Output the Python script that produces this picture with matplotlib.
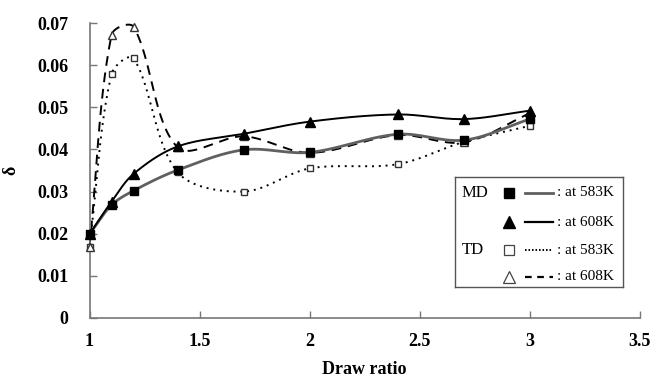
import numpy as np
import matplotlib
matplotlib.use("Agg")
from matplotlib import pyplot as plt

draw_ratio = [1.0, 1.1, 1.2, 1.4, 1.7, 2.0, 2.4, 2.7, 3.0]
md_583 = [0.0199, 0.0268, 0.0302, 0.0351, 0.0399, 0.0393, 0.0436, 0.0422, 0.0472]
md_608 = [0.0199, 0.0276, 0.0342, 0.0407, 0.0437, 0.0466, 0.0483, 0.0472, 0.0492]
td_583 = [0.0169, 0.0579, 0.0616, 0.0346, 0.0300, 0.0355, 0.0365, 0.0418, 0.0456]
td_608 = [0.0169, 0.0672, 0.0691, 0.0405, 0.0431, 0.0392, 0.0434, 0.0417, 0.0486]

x_ticks = [1, 1.5, 2, 2.5, 3, 3.5]
x_tick_labels = ["1", "1.5", "2", "2.5", "3", "3.5"]
y_ticks = [0, 0.01, 0.02, 0.03, 0.04, 0.05, 0.06, 0.07]
y_tick_labels = ["0", "0.01", "0.02", "0.03", "0.04", "0.05", "0.06", "0.07"]


def smooth(xs, ys, n=30):
    # smoothed line through the points, bezier with length-weighted tangents
    # (done in a scaled space roughly matching the axes box)
    p = np.column_stack([np.asarray(xs) / 2.5 * 550, np.asarray(ys) / 0.07 * 295])
    out = []
    for i in range(len(p) - 1):
        p0 = p[i - 1] if i > 0 else p[i]
        p1 = p[i]
        p2 = p[i + 1]
        p3 = p[i + 2] if i + 2 < len(p) else p[i + 1]
        l01 = np.linalg.norm(p1 - p0)
        l12 = np.linalg.norm(p2 - p1)
        l23 = np.linalg.norm(p3 - p2)
        b1 = p1 + (p2 - p0) * l12 / (l01 + l12) / 3
        b2 = p2 - (p3 - p1) * l12 / (l12 + l23) / 3
        t = np.linspace(0, 1, n)[:, None]
        seg = (1 - t) ** 3 * p1 + 3 * (1 - t) ** 2 * t * b1 + 3 * (1 - t) * t ** 2 * b2 + t ** 3 * p2
        out.append(seg if i == 0 else seg[1:])
    out = np.vstack(out)
    return out[:, 0] / 550 * 2.5, out[:, 1] / 295 * 0.07


plt.rcParams["font.family"] = ["Liberation Serif", "DejaVu Serif"]

fig = plt.figure(figsize=(6.51, 3.84), dpi=100)
ax = fig.add_axes([0.1375, 0.172, 0.8455, 0.768])

sx, sy = smooth(draw_ratio, md_583)
ax.plot(sx, sy, color="#606060", lw=2.0, zorder=3, clip_on=False)
sx, sy = smooth(draw_ratio, md_608)
ax.plot(sx, sy, color="black", lw=1.4, zorder=3, clip_on=False)
sx, sy = smooth(draw_ratio, td_583)
ax.plot(sx, sy, color="black", lw=1.4, ls=(0, (1, 2.5)), zorder=2, clip_on=False)
sx, sy = smooth(draw_ratio, td_608)
ax.plot(sx, sy, color="black", lw=1.4, ls=(0, (5, 3.5)), zorder=2, clip_on=False)

ax.plot(draw_ratio, td_583, ls="none", marker="s", ms=5, mfc="white", mec="#333333", mew=1, zorder=4, clip_on=False)
ax.plot(draw_ratio, td_608, ls="none", marker="^", ms=5.5, mfc="white", mec="#333333", mew=1, zorder=4, clip_on=False)
ax.plot(draw_ratio, md_583, ls="none", marker="s", ms=5.5, color="black", zorder=5, clip_on=False)
ax.plot(draw_ratio, md_608, ls="none", marker="^", ms=6.5, color="black", zorder=5, clip_on=False)

ax.set_xlim(1, 3.5)
ax.set_ylim(0, 0.07)
ax.set_xticks(x_ticks)
ax.set_xticklabels(x_tick_labels, fontweight="bold", fontsize=13)
ax.set_yticks(y_ticks)
ax.set_yticklabels(y_tick_labels, fontweight="bold", fontsize=13)
ax.tick_params(axis="both", direction="in", length=5, color="#777777", width=1)
ax.tick_params(axis="x", pad=11)
ax.tick_params(axis="y", pad=15)
for side in ["top", "right"]:
    ax.spines[side].set_visible(False)
for side in ["left", "bottom"]:
    ax.spines[side].set_color("#777777")
    ax.spines[side].set_linewidth(1.2)

ax.set_xlabel("Draw ratio", fontweight="bold", fontsize=13, labelpad=8)
ax.set_ylabel("δ", fontweight="bold", fontsize=13)
ax.yaxis.set_label_coords(-0.128, 0.5)

# legend box drawn by hand
lg = fig.add_axes([455 / 651, 1 - 287 / 384, 168 / 651, 110 / 384])
lg.set_xlim(455, 623)
lg.set_ylim(287, 177)
lg.set_xticks([])
lg.set_yticks([])
for s in lg.spines.values():
    s.set_color("#555555")
    s.set_linewidth(1)
rows_y = [193, 222, 250, 277]
lg.text(462, rows_y[0], "MD", fontsize=12, va="center", ha="left")
lg.text(462, rows_y[2], "TD", fontsize=12, va="center", ha="left")
lg.plot([509], [rows_y[0]], marker="s", ms=6.5, color="black")
lg.plot([509], [rows_y[1]], marker="^", ms=8, color="black")
lg.plot([509], [rows_y[2]], marker="s", ms=7, mfc="white", mec="#444444", mew=0.9)
lg.plot([509], [rows_y[3]], marker="^", ms=8.5, mfc="white", mec="#444444", mew=0.9)
lg.plot([525, 553], [rows_y[0]] * 2, color="#606060", lw=2)
lg.plot([525, 553], [rows_y[1]] * 2, color="black", lw=1.6)
lg.plot([525, 553], [rows_y[2]] * 2, color="black", lw=1.4, ls=(0, (0.8, 1)))
lg.plot([525, 553], [rows_y[3]] * 2, color="black", lw=1.6, ls=(0, (3, 2.5)))
for y, t in zip(rows_y, [": at 583K", ": at 608K", ": at 583K", ": at 608K"]):
    lg.text(557, y, t, fontsize=11, va="center", ha="left")

fig.savefig("out.png", dpi=100)
